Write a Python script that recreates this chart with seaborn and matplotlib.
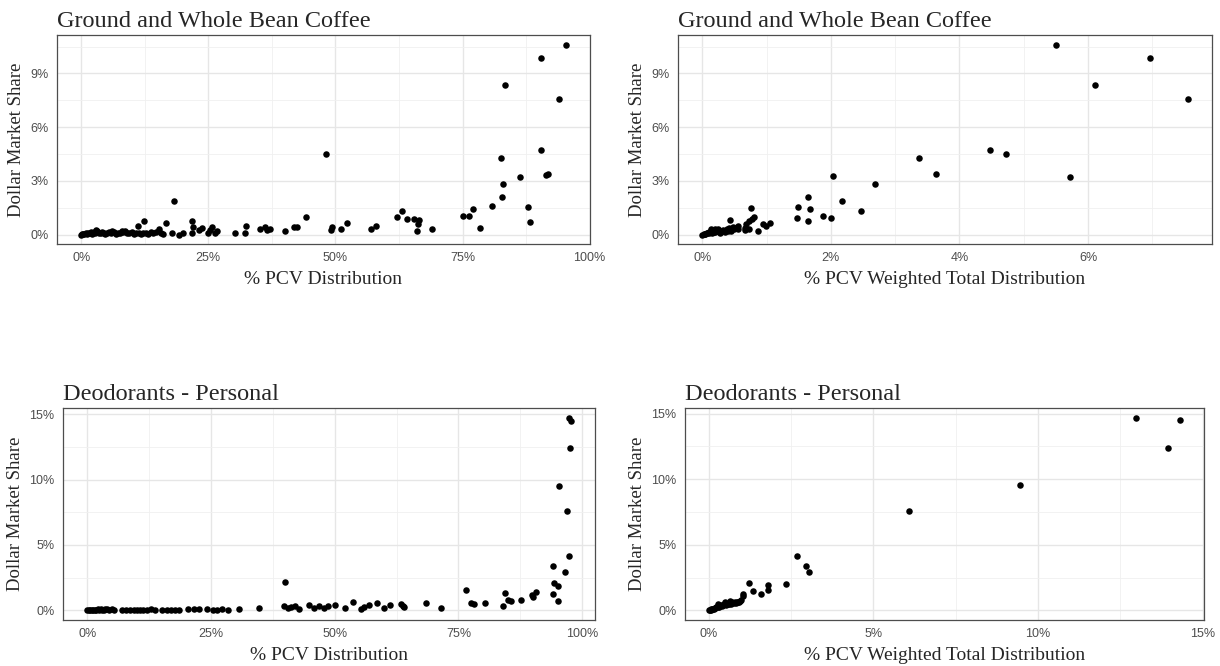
import numpy as np
import pandas as pd
import matplotlib
matplotlib.use('Agg')
import matplotlib.pyplot as plt
import seaborn as sns
from matplotlib.ticker import PercentFormatter, MultipleLocator

# Ground and Whole Bean Coffee: % PCV distribution vs dollar share
coffee_pcv = [0.0, 0.2, 0.4, 0.6, 0.9, 1.1, 1.4, 1.7, 2.0, 2.2, 2.5, 2.8, 3.0, 3.2, 3.5, 3.8,
              4.1, 4.4, 4.7, 5.0, 5.4, 5.8, 6.1, 6.4, 6.8, 7.2, 7.6, 8.0, 8.3, 8.7, 9.0, 9.4,
              9.9, 10.4, 10.8, 11.3, 11.8, 12.2, 12.7, 13.2, 13.7, 14.2, 14.8, 15.3, 15.7, 16.0,
              11.1, 12.3, 16.7, 18.2, 17.8, 19.2, 20.0, 21.7, 22.0, 21.7, 23.1, 23.7, 24.9, 25.3,
              25.7, 26.4, 26.7, 30.2, 32.2, 32.5, 35.1, 36.1, 36.6, 37.1, 40.1, 41.9, 42.4, 44.2,
              48.1, 49.2, 49.4, 51.1, 52.3, 57.0, 57.9, 62.1, 63.0, 64.0, 65.4, 66.1, 66.3, 66.4,
              68.9, 75.1, 76.3, 77.0, 78.4, 80.7, 82.6, 82.7, 83.0, 83.4, 86.2, 87.8, 88.2, 90.5,
              90.5, 91.5, 91.8, 94.0, 95.3]
coffee_pcv_share = [0.0, 0.02, 0.05, 0.03, 0.08, 0.04, 0.1, 0.06, 0.12, 0.05, 0.15, 0.08, 0.25, 0.18,
                    0.1, 0.06, 0.12, 0.08, 0.05, 0.1, 0.15, 0.07, 0.2, 0.12, 0.05, 0.1, 0.08, 0.2,
                    0.15, 0.22, 0.1, 0.06, 0.12, 0.05, 0.1, 0.08, 0.04, 0.1, 0.06, 0.05, 0.12, 0.08,
                    0.15, 0.3, 0.1, 0.05,
                    0.48, 0.78, 0.67, 1.88, 0.06, 0.0, 0.06, 0.76, 0.43, 0.11, 0.24, 0.37, 0.09, 0.24,
                    0.43, 0.09, 0.19, 0.06, 0.11, 0.48, 0.28, 0.41, 0.24, 0.32, 0.19, 0.43, 0.43, 0.97,
                    4.51, 0.24, 0.43, 0.32, 0.65, 0.28, 0.48, 0.97, 1.29, 0.86, 0.89, 0.22, 0.58, 0.80,
                    0.28, 1.06, 1.02, 1.45, 0.37, 1.57, 4.29, 2.09, 2.85, 8.37, 3.22, 1.51, 0.71, 9.86,
                    4.71, 3.30, 3.39, 7.56, 10.62]

# Ground and Whole Bean Coffee: % PCV weighted total distribution vs dollar share
coffee_tdp = [0.0, 0.02, 0.04, 0.05, 0.07, 0.08, 0.1, 0.12, 0.13, 0.15, 0.16, 0.18, 0.2, 0.22,
              0.24, 0.25, 0.27, 0.3, 0.32, 0.35, 0.38, 0.4, 0.42, 0.45, 0.48, 0.5, 0.52, 0.55,
              0.1, 0.14, 0.2, 0.28, 0.36, 0.44,
              0.43, 0.56, 0.66, 0.67, 0.68, 0.72, 0.73, 0.76, 0.77, 0.81, 0.86, 0.95, 0.99, 1.05,
              1.48, 1.49, 1.65, 1.65, 1.67, 1.87, 2.00, 2.03, 2.18, 2.47, 2.68, 3.37, 3.63, 4.48,
              4.72, 5.50, 5.72, 6.11, 6.97, 7.55]
coffee_tdp_share = [0.0, 0.02, 0.05, 0.03, 0.08, 0.1, 0.06, 0.12, 0.2, 0.1, 0.25, 0.15, 0.12, 0.22,
                    0.18, 0.3, 0.14, 0.2, 0.25, 0.18, 0.3, 0.22, 0.35, 0.28, 0.4, 0.3, 0.35, 0.32,
                    0.15, 0.28, 0.3, 0.1, 0.12, 0.2,
                    0.80, 0.45, 0.37, 0.26, 0.60, 0.30, 0.77, 1.50, 0.86, 0.98, 0.21, 0.58, 0.49, 0.64,
                    0.95, 1.55, 2.11, 0.78, 1.44, 1.06, 0.95, 3.26, 1.87, 1.29, 2.84, 4.27, 3.36, 4.70,
                    4.50, 10.62, 3.21, 8.36, 9.85, 7.56]

# Deodorants - Personal: % PCV distribution vs dollar share
deo_pcv = [0.0, 0.3, 0.6, 0.9, 1.2, 1.5, 1.8, 2.1, 2.4, 2.7, 3.0, 3.3, 3.6, 4.0, 4.4, 5.0, 5.5,
           7.0, 7.8, 8.6, 9.4, 10.0, 10.7, 11.3, 12.0, 12.8, 13.7, 15.2, 16.1, 17.0, 17.8, 18.5,
           20.3, 21.5, 22.5, 24.3, 25.4, 26.3, 27.2, 28.5, 30.7, 34.7,
           39.9, 39.7, 40.5, 41.1, 41.9, 42.8, 44.9, 45.9, 46.8, 47.8, 48.6, 50.1, 52.0, 53.6,
           55.3, 55.9, 57.0, 58.6, 59.9, 61.2, 63.4, 63.7, 64.1, 68.4, 71.4, 76.6, 77.5, 78.1,
           80.3, 84.4, 83.9, 85.0, 85.6, 87.6, 89.8, 90.1, 90.7, 94.0, 95.1, 94.3, 95.2, 94.1,
           96.5, 97.3, 97.0, 95.4, 97.6, 97.4, 97.7]
deo_pcv_share = [0.0, 0.0, 0.02, 0.0, 0.05, 0.0, 0.04, 0.08, 0.03, 0.1, 0.05, 0.0, 0.08, 0.1, 0.05,
                 0.08, 0.0, 0.0, 0.03, 0.0, 0.05, 0.0, 0.03, 0.05, 0.0, 0.08, 0.03, 0.05, 0.05, 0.05,
                 0.03, 0.0, 0.08, 0.13, 0.08, 0.08, 0.05, 0.02, 0.08, 0.05, 0.13, 0.15,
                 2.14, 0.31, 0.15, 0.26, 0.36, 0.13, 0.44, 0.15, 0.33, 0.15, 0.31, 0.41, 0.21, 0.64,
                 0.13, 0.26, 0.41, 0.57, 0.21, 0.41, 0.51, 0.31, 0.26, 0.57, 0.21, 1.54, 0.59, 0.51,
                 0.57, 1.31, 0.36, 0.77, 0.69, 0.80, 1.21, 1.03, 1.44, 1.23, 0.72, 2.06, 1.90, 3.37,
                 2.93, 4.12, 7.59, 9.52, 12.40, 14.74, 14.48]

# Deodorants - Personal: % PCV weighted total distribution vs dollar share
deo_tdp = [0.0, 0.03, 0.06, 0.08, 0.1, 0.13, 0.15, 0.18, 0.2, 0.24, 0.28, 0.3, 0.33, 0.38,
           0.42, 0.45, 0.48, 0.52, 0.55, 0.58, 0.62, 0.66, 0.69, 0.72, 0.76, 0.79, 0.83, 0.86,
           0.89, 0.93, 0.96, 0.99, 0.3, 0.5, 0.65,
           1.04, 1.05, 1.22, 1.36, 1.59, 1.79, 1.81, 2.36, 2.67, 2.96, 3.05, 6.09, 9.45, 12.98,
           13.94, 14.32]
deo_tdp_share = [0.0, 0.03, 0.05, 0.08, 0.1, 0.13, 0.12, 0.18, 0.2, 0.22, 0.26, 0.36, 0.28, 0.39,
                 0.34, 0.4, 0.46, 0.42, 0.51, 0.45, 0.5, 0.57, 0.52, 0.6, 0.56, 0.62, 0.58, 0.64,
                 0.67, 0.62, 0.72, 0.8, 0.45, 0.6, 0.7,
                 1.08, 1.23, 2.11, 1.47, 1.26, 1.90, 1.54, 2.03, 4.12, 3.37, 2.93, 7.59, 9.52, 14.69,
                 12.40, 14.48]

panels = [
    ('Ground and Whole Bean Coffee', coffee_pcv, coffee_pcv_share, '% PCV Distribution', 25, 12.5, 3, 1.5),
    ('Ground and Whole Bean Coffee', coffee_tdp, coffee_tdp_share, '% PCV Weighted Total Distribution', 2, 1, 3, 1.5),
    ('Deodorants - Personal', deo_pcv, deo_pcv_share, '% PCV Distribution', 25, 12.5, 5, 2.5),
    ('Deodorants - Personal', deo_tdp, deo_tdp_share, '% PCV Weighted Total Distribution', 5, 2.5, 5, 2.5),
]

# pixel boxes (left, right, top, bottom) of each panel in a 1220x666 image
boxes = [(57, 590, 35, 244), (678, 1212, 35, 244), (63, 595, 408, 620), (685, 1204, 408, 620)]

sns.set_theme(style='white')
plt.rcParams['font.family'] = ['Liberation Serif', 'DejaVu Serif']

fig = plt.figure(figsize=(12.2, 6.66), dpi=100)

for (title, xs, ys, xlabel, xmaj, xmin, ymaj, ymin), (l, r, t, b) in zip(panels, boxes):
    ax = fig.add_axes([l / 1220, 1 - b / 666, (r - l) / 1220, (b - t) / 666])
    df = pd.DataFrame({'x': xs, 'y': ys})
    sns.scatterplot(data=df, x='x', y='y', ax=ax, color='black', s=22, linewidth=0, zorder=3)

    # ggplot-style 5% expansion
    xr = max(xs) - min(xs)
    yr = max(ys) - min(ys)
    ax.set_xlim(min(xs) - 0.05 * xr, max(xs) + 0.05 * xr)
    ax.set_ylim(min(ys) - 0.05 * yr, max(ys) + 0.05 * yr)

    ax.xaxis.set_major_locator(MultipleLocator(xmaj))
    ax.xaxis.set_minor_locator(MultipleLocator(xmin))
    ax.yaxis.set_major_locator(MultipleLocator(ymaj))
    ax.yaxis.set_minor_locator(MultipleLocator(ymin))
    ax.xaxis.set_major_formatter(PercentFormatter(decimals=0))
    ax.yaxis.set_major_formatter(PercentFormatter(decimals=0))

    ax.grid(which='major', color='#e6e6e6', linewidth=1.0)
    ax.grid(which='minor', color='#f0f0f0', linewidth=0.6)
    ax.set_axisbelow(True)
    for sp in ax.spines.values():
        sp.set_color('#4d4d4d')
        sp.set_linewidth(0.9)

    ax.tick_params(which='major', direction='out', length=3, width=0.8, color='#4d4d4d',
                   labelsize=9, labelcolor='#4d4d4d', pad=3)
    ax.tick_params(which='minor', length=0)
    for lab in ax.get_xticklabels() + ax.get_yticklabels():
        lab.set_family(['Liberation Sans', 'DejaVu Sans'])

    ax.set_title(title, loc='left', fontsize=17.5, pad=6)
    ax.set_xlabel(xlabel, fontsize=14, labelpad=5)
    ax.set_ylabel('Dollar Market Share', fontsize=13.5, labelpad=4)

fig.savefig('out.png', dpi=100)
